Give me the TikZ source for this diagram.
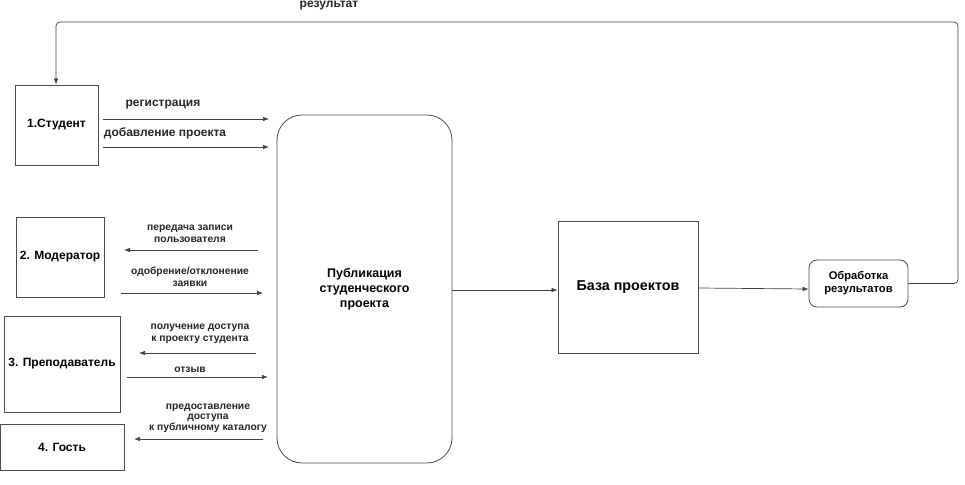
\documentclass[tikz,border=0pt]{standalone}
\usepackage{fontspec}
\setmainfont{Liberation Sans}
\usetikzlibrary{arrows.meta}
\begin{document}
\begin{tikzpicture}[x=1pt,y=-1pt,
  box/.style={draw=black!70,line width=0.8pt,inner sep=0pt,font=\bfseries\fontsize{12}{14}\selectfont},
  rbox/.style={box,rounded corners=14pt},
  flow/.style={draw=black!75,line width=0.7pt,-{Latex[length=6pt,width=4.5pt]}},
  lbl/.style={font=\bfseries\fontsize{10.3}{12}\selectfont,align=center,inner sep=0pt,text=black!85},
  biglbl/.style={lbl,font=\bfseries\fontsize{12}{14}\selectfont}]
\useasboundingbox (0,0) rectangle (965,484);
% nodes
\node[box,minimum width=83pt,minimum height=80pt] (st) at (56.5,125) {1.Студент};
\node[box,minimum width=88pt,minimum height=80pt] (mod) at (60,257) {2. Модератор};
\node[box,minimum width=116pt,minimum height=96pt] (pr) at (62,364) {3. Преподаватель};
\node[box,minimum width=124pt,minimum height=46pt] (gu) at (62,447) {4. Гость};
\node[rbox,rounded corners=25pt,minimum width=175pt,minimum height=348pt,align=center,
  font=\bfseries\fontsize{12.5}{15}\selectfont] (pub) at (364.5,289) {Публикация\\студенческого\\проекта};
\node[box,minimum width=140pt,minimum height=132pt,font=\bfseries\fontsize{14.3}{16}\selectfont] (db) at (628,287) {База проектов};
\node[rbox,rounded corners=8pt,minimum width=99pt,minimum height=47pt,align=center,
  font=\bfseries\fontsize{11.2}{13}\selectfont] (ob) at (858.5,283.5) {Обработка\\результатов};
% coordinates
\coordinate (r1s) at (103,119); \coordinate (r1e) at (269,119);
\coordinate (r2s) at (103,147); \coordinate (r2e) at (269,147);
\coordinate (m1s) at (258,250); \coordinate (m1e) at (124,250);
\coordinate (m2s) at (121,293); \coordinate (m2e) at (263,293);
\coordinate (p1s) at (256,353); \coordinate (p1e) at (139,353);
\coordinate (p2s) at (127,377); \coordinate (p2e) at (268,377);
\coordinate (g1s) at (263,439); \coordinate (g1e) at (134,439);
% connectors
\draw[flow] (r1s) -- (r1e);
\draw[flow] (r2s) -- (r2e);
\draw[flow] (m1s) -- (m1e);
\draw[flow] (m2s) -- (m2e);
\draw[flow] (p1s) -- (p1e);
\draw[flow] (p2s) -- (p2e);
\draw[flow] (g1s) -- (g1e);
\draw[flow] (pub.east |- 0,290) -- (db.west |- 0,290);
\draw[flow] (db.east |- 0,288) -- (ob.west |- 0,289);
\draw[flow,rounded corners=4pt] (ob.east) -- (958,283.5) -- (958,22) -- (56,22) -- (st.north -| 56,0);
% labels
\node[biglbl] (t0) at (329,6) {результат};
\node[biglbl] (t1) at (163,105) {регистрация};
\node[biglbl] (t2) at (165,133) {добавление проекта};
\node[lbl] (t3) at (190,234) {передача записи\\пользователя};
\node[lbl] (t4) at (190,277) {одобрение/отклонение\\заявки};
\node[lbl] (t5) at (200,334) {получение доступа\\к проекту студента};
\node[lbl] (t6) at (190,370) {отзыв};
\node[lbl,font=\bfseries\fontsize{10.3}{10.5}\selectfont] (t7) at (208,418) {предоставление\\доступа\\к публичному каталогу};
\end{tikzpicture}
\end{document}
